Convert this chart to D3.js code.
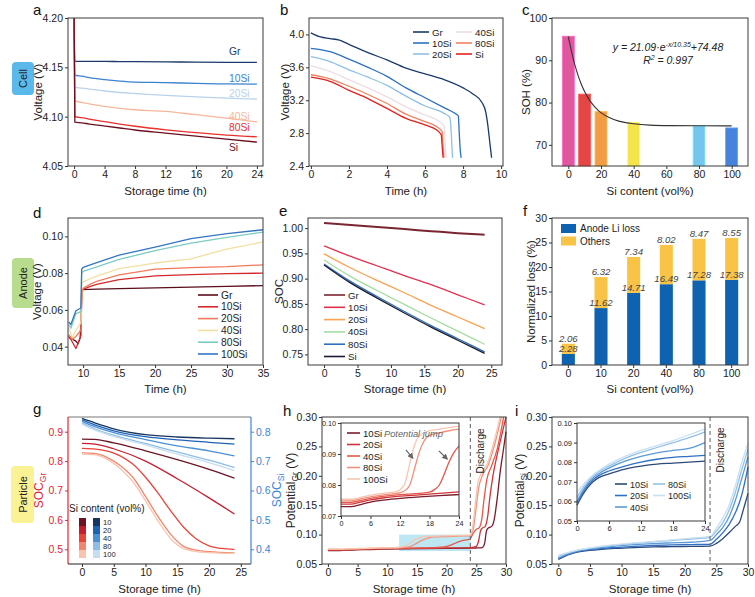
<!DOCTYPE html>
<html>
<head>
<meta charset="utf-8">
<script src="https://cdn.jsdelivr.net/npm/d3@7"></script>
<style>
  body { margin: 0; background: #fff; }
  svg text { font-family: "Liberation Sans", Arial, sans-serif; }
</style>
</head>
<body>
<svg id="fig" width="755" height="597"></svg>
<script>
// ---------- data ----------
// a: cell voltage during storage
var cellNames = ['Gr', '10Si', '20Si', '40Si', '80Si', 'Si'];
var aTime = [0, 0.1, 1, 2, 4, 6, 8, 12, 16, 20, 24];
var aVolt = [
  [4.2, 4.156, 4.156, 4.156, 4.156, 4.1558, 4.1557, 4.1555, 4.1553, 4.1551, 4.155],
  [4.2, 4.142, 4.141, 4.1395, 4.1375, 4.136, 4.135, 4.1345, 4.1337, 4.1332, 4.133],
  [4.2, 4.130, 4.129, 4.128, 4.126, 4.1245, 4.1235, 4.1215, 4.120, 4.1187, 4.1178],
  [4.2, 4.116, 4.1145, 4.113, 4.1105, 4.1085, 4.107, 4.1054, 4.102, 4.0986, 4.0946],
  [4.2, 4.100, 4.099, 4.0975, 4.095, 4.0925, 4.0903, 4.0867, 4.0838, 4.0813, 4.0796],
  [4.2, 4.0945, 4.0938, 4.0925, 4.0905, 4.0885, 4.0865, 4.0834, 4.0803, 4.0772, 4.0742]
];
var aLabelV = [4.1625, 4.135, 4.12, 4.0966, 4.0855, 4.065];

// b: discharge curves [time, V]
var bCurves = [
  [[0,4.02],[0.5,3.97],[1,3.95],[1.5,3.93],[2,3.88],[3,3.78],[4,3.69],[5,3.59],[6,3.52],[7,3.45],[8,3.35],[8.5,3.28],[9,3.17],[9.2,3.05],[9.3,2.9],[9.4,2.7],[9.5,2.5]],
  [[0,3.83],[1,3.79],[2,3.7],[3,3.6],[4,3.49],[5,3.35],[6,3.23],[7,3.11],[7.5,3.05],[7.75,3.01],[7.8,2.8],[7.85,2.6],[7.9,2.5]],
  [[0,3.73],[1,3.67],[2,3.57],[3,3.48],[4,3.38],[5,3.25],[6,3.13],[7,3.04],[7.3,2.99],[7.38,2.8],[7.42,2.6],[7.45,2.5]],
  [[0,3.62],[1,3.55],[2,3.45],[3,3.35],[4,3.24],[5,3.12],[6,3.02],[6.7,2.95],[7.0,2.89],[7.05,2.7],[7.1,2.5]],
  [[0,3.51],[1,3.46],[2,3.37],[3,3.27],[4,3.16],[5,3.03],[6,2.94],[6.6,2.88],[6.9,2.82],[6.95,2.65],[7.0,2.5]],
  [[0,3.48],[1,3.43],[2,3.32],[3,3.22],[4,3.10],[5,2.98],[6,2.90],[6.6,2.84],[6.85,2.78],[6.9,2.65],[6.95,2.5]]
];

// c: state of health
var siContent = [0, 10, 20, 40, 80, 100];
var cSOH = [95.7, 82.0, 77.9, 75.3, 74.5, 74.0];
var cFitX = [0, 2, 4, 6, 8, 10, 13, 16, 20, 25, 30, 40, 50, 60, 80, 100];
var cFitY = [95.6, 91.9, 88.8, 86.3, 84.2, 82.5, 80.5, 79.0, 77.5, 76.4, 75.6, 74.9, 74.65, 74.55, 74.5, 74.48];

// d: anode voltage
var anodeNames = ['Gr', '10Si', '20Si', '40Si', '80Si', '100Si'];
var dCurves = [
  [[8,0.045],[8.5,0.044],[9.0,0.043],[9.3,0.0415],[9.6,0.045],[9.75,0.06],[9.8,0.071],[12,0.0713],[15,0.0716],[20,0.072],[25,0.0724],[30,0.0728],[35,0.0732]],
  [[8,0.046],[8.5,0.0425],[9.0,0.039],[9.4,0.043],[9.7,0.046],[9.8,0.070],[10,0.0712],[11,0.0728],[12,0.074],[15,0.0765],[20,0.0785],[25,0.0792],[30,0.0797],[35,0.080]],
  [[8,0.0465],[8.5,0.044],[9.0,0.0455],[9.7,0.049],[9.85,0.070],[10,0.0718],[11,0.074],[12,0.0757],[15,0.079],[20,0.0822],[25,0.083],[30,0.0835],[35,0.0845]],
  [[8,0.050],[8.5,0.045],[9.0,0.049],[9.7,0.053],[9.8,0.074],[10,0.0752],[11,0.077],[12,0.0785],[15,0.0825],[20,0.0855],[25,0.0878],[28,0.091],[30,0.093],[35,0.097]],
  [[8,0.052],[8.3,0.050],[9.0,0.058],[9.7,0.059],[9.8,0.080],[10,0.081],[12,0.0835],[15,0.0875],[20,0.0922],[25,0.0963],[30,0.0995],[35,0.1023]],
  [[8,0.0535],[8.3,0.052],[9.0,0.0595],[9.7,0.061],[9.8,0.082],[10,0.0831],[12,0.0858],[15,0.0898],[20,0.0942],[25,0.0988],[30,0.1015],[35,0.1036]]
];

// e: anode SOC
var eTime = [0, 4, 8, 12, 16, 20, 24];
var eSOC = [
  [1.010, 1.006, 1.002, 0.998, 0.994, 0.990, 0.987],
  [0.965, 0.944, 0.925, 0.906, 0.888, 0.868, 0.848],
  [0.949, 0.921, 0.896, 0.872, 0.847, 0.824, 0.801],
  [0.937, 0.904, 0.876, 0.849, 0.822, 0.796, 0.770],
  [0.929, 0.894, 0.864, 0.835, 0.807, 0.781, 0.755],
  [0.927, 0.891, 0.861, 0.832, 0.804, 0.778, 0.752]
];

// f: normalized loss
var fAnode = [2.28, 11.62, 14.71, 16.49, 17.28, 17.38];
var fOthers = [2.06, 6.32, 7.34, 8.02, 8.47, 8.55];

// g: particle SOC
var partNames = ['10', '20', '40', '80', '100'];
var gGr = [
  [[0,0.875],[2,0.874],[5,0.862],[10,0.835],[15,0.805],[20,0.772],[24,0.742]],
  [[0,0.860],[2,0.858],[5,0.842],[10,0.80],[15,0.74],[20,0.675],[24,0.62]],
  [[0,0.843],[3,0.838],[6,0.818],[8,0.79],[10,0.745],[12,0.69],[14,0.63],[16,0.575],[18,0.535],[20,0.512],[22,0.503],[24,0.50]],
  [[0,0.828],[2,0.826],[4,0.812],[6,0.785],[8,0.745],[10,0.68],[12,0.61],[14,0.55],[16,0.51],[18,0.497],[20,0.492],[24,0.488]],
  [[0,0.824],[2,0.822],[4,0.806],[6,0.775],[8,0.73],[10,0.665],[12,0.595],[14,0.535],[16,0.502],[18,0.492],[20,0.489],[24,0.486]]
];
var gSi = [
  [[0,0.845],[2,0.83],[5,0.81],[10,0.79],[15,0.782],[20,0.778],[24,0.776]],
  [[0,0.84],[2,0.823],[5,0.803],[10,0.783],[15,0.772],[20,0.764],[24,0.758]],
  [[0,0.835],[2,0.817],[5,0.797],[10,0.773],[15,0.752],[20,0.735],[24,0.718]],
  [[0,0.83],[2,0.81],[5,0.788],[10,0.76],[15,0.731],[20,0.703],[24,0.678]],
  [[0,0.826],[2,0.806],[5,0.784],[10,0.755],[15,0.724],[20,0.695],[24,0.668]]
];

// h: graphite potential (storage part, also used by the inset) and discharge part
var siNames = ['10Si', '20Si', '40Si', '80Si', '100Si'];
var hStore = [
  [[0,0.0730],[2,0.0730],[4,0.0737],[6,0.0745],[9,0.0752],[12,0.0757],[16,0.0762],[20,0.0766],[24,0.0769]],
  [[0,0.0738],[2,0.0738],[4,0.0745],[6,0.0752],[9,0.0759],[12,0.0764],[16,0.0768],[20,0.0773],[24,0.0778]],
  [[0,0.0744],[2,0.0744],[4,0.0750],[6,0.0757],[9,0.0764],[12,0.0769],[16,0.0773],[18,0.0777],[19,0.0785],[20,0.080],[21,0.0835],[22,0.0875],[23,0.0905],[24,0.0926]],
  [[0,0.0749],[2,0.0749],[4,0.0755],[6,0.0762],[9,0.0769],[12,0.0775],[13,0.0782],[14,0.080],[15,0.0855],[16,0.091],[17,0.0945],[18,0.0960],[20,0.0968],[22,0.0975],[24,0.0980]],
  [[0,0.0754],[2,0.0754],[4,0.0760],[6,0.0767],[9,0.0774],[11,0.0778],[12,0.0785],[13,0.0805],[14,0.087],[15,0.093],[16,0.096],[18,0.0975],[20,0.0980],[22,0.0985],[24,0.0990]]
];
var hDis = [
  [[25,0.0772],[26,0.078],[26.4,0.085],[26.7,0.106],[27.0,0.111],[27.6,0.114],[28.0,0.125],[28.5,0.16],[29.0,0.205],[29.5,0.24],[30,0.275]],
  [[24.5,0.0785],[25.0,0.080],[25.4,0.09],[25.7,0.106],[26.0,0.111],[26.5,0.114],[26.9,0.13],[27.3,0.165],[27.8,0.2],[28.5,0.235],[29.3,0.27],[30,0.3]],
  [[24.2,0.097],[24.6,0.104],[25.0,0.109],[25.5,0.112],[25.9,0.125],[26.3,0.16],[26.8,0.195],[27.5,0.215],[28.5,0.245],[29.6,0.3]],
  [[24.2,0.101],[24.5,0.11],[24.9,0.14],[25.4,0.18],[26,0.2],[27,0.218],[28,0.25],[29.2,0.3]],
  [[24.15,0.102],[24.4,0.115],[24.8,0.15],[25.3,0.19],[25.9,0.205],[26.9,0.222],[27.9,0.255],[29.0,0.3]]
];
var hArrows = [[[13.2,0.0913],[14.6,0.0887]], [[19.9,0.0910],[21.6,0.0884]]];

// i: silicon potential
var iStore = [
  [[0,0.058],[1,0.063],[2,0.067],[3,0.070],[4,0.072],[6,0.074],[9,0.0765],[12,0.078],[15,0.079],[18,0.0795],[21,0.080],[24,0.0805]],
  [[0,0.059],[1,0.064],[2,0.068],[3,0.071],[4,0.073],[6,0.0755],[9,0.078],[12,0.080],[15,0.0815],[18,0.0825],[21,0.083],[24,0.0835]],
  [[0,0.060],[1,0.065],[2,0.069],[3,0.072],[4,0.074],[6,0.077],[9,0.0805],[12,0.083],[15,0.0848],[18,0.086],[21,0.087],[24,0.090]],
  [[0,0.062],[1,0.0665],[2,0.070],[3,0.073],[4,0.075],[6,0.078],[9,0.082],[12,0.085],[15,0.0875],[18,0.090],[21,0.0925],[24,0.0955]],
  [[0,0.065],[1,0.068],[2,0.071],[3,0.0735],[4,0.0755],[6,0.079],[9,0.083],[12,0.086],[15,0.0885],[18,0.091],[21,0.094],[24,0.097]]
];
var iDis = [
  [[25,0.085],[26,0.093],[27,0.103],[28,0.114],[28.7,0.122],[29.2,0.14],[29.6,0.155],[30,0.17]],
  [[25,0.092],[26,0.103],[27,0.117],[28,0.137],[29,0.167],[30,0.215]],
  [[25,0.100],[26,0.112],[27,0.130],[28,0.158],[29,0.195],[30,0.232]],
  [[25,0.106],[26,0.120],[27,0.141],[28,0.172],[29,0.210],[30,0.245]],
  [[25,0.111],[26,0.128],[27,0.150],[28,0.183],[29,0.222],[30,0.255]]
];

// ---------- colours ----------
var aCol = ['#1b3a6b', '#3b82d0', '#b9d3ea', '#f7b79b', '#e8302c', '#6b0f1f'];
var bCol = ['#1b3a6b', '#2b6fc5', '#8fc0e2', '#eedde3', '#f2825f', '#e0211f'];
var cCol = ['#e0579f', '#e44646', '#f29d45', '#f5e44a', '#74c6ef', '#4684dc'];
var dCol = ['#5c0d1c', '#d42a2c', '#f27a5c', '#f1e0a4', '#7ccbc2', '#3375c3'];
var eCol = ['#7a2430', '#e2314f', '#f8a352', '#a6dca4', '#2c6fc0', '#1a1c34'];
var redCol = ['#6b1424', '#c41e2e', '#e8453a', '#f0876e', '#f7c4ae'];
var blueCol = ['#17355e', '#1f62b5', '#4a8fd4', '#8dbde6', '#c6dcef'];
var hCol = ['#7a1c2a', '#d0343a', '#e5584a', '#f0907a', '#f7c6b0'];
var iCol = ['#2c4a78', '#2f6fc4', '#5b9ad6', '#93c1e7', '#c9e0f1'];

// ---------- helpers ----------
var svg = d3.select('#fig');
var FONT = '"Liberation Sans", Arial, sans-serif';

function txt(x, y, s, o) {
  o = o || {};
  var t = svg.append('text').attr('x', x).attr('y', y)
    .attr('font-size', o.fs || 11.5).attr('fill', o.fill || '#222')
    .attr('text-anchor', o.anchor || 'start');
  if (s !== null) t.text(s);
  if (o.italic) t.attr('font-style', 'italic');
  if (o.rot) t.attr('transform', 'rotate(-90,' + x + ',' + y + ')');
  return t;
}

function axes(b, xs, ys, o) {
  var gx = svg.append('g').attr('transform', 'translate(0,' + b.b + ')')
    .call(d3.axisBottom(xs).tickValues(o.xt).tickFormat(o.xf || null).tickSize(3).tickSizeOuter(0).tickPadding(2));
  var gy = svg.append('g').attr('transform', 'translate(' + b.l + ',0)')
    .call(d3.axisLeft(ys).tickValues(o.yt).tickFormat(o.yf || null).tickSize(3).tickSizeOuter(0).tickPadding(2));
  [gx, gy].forEach(function(g) {
    g.attr('font-family', FONT).attr('font-size', o.fs || 10.5);
    g.select('.domain').remove();
    g.selectAll('line').attr('stroke', '#333');
    g.selectAll('text').attr('fill', '#222');
  });
  if (!o.noFrame) {
    svg.append('rect').attr('x', b.l).attr('y', b.t).attr('width', b.r - b.l).attr('height', b.b - b.t)
      .attr('fill', 'none').attr('stroke', '#3a3a3a').attr('stroke-width', 1);
  }
  return [gx, gy];
}

function line(pts, xs, ys, col, w, curve) {
  return svg.append('path').datum(pts)
    .attr('fill', 'none').attr('stroke', col).attr('stroke-width', w || 1.3)
    .attr('stroke-linejoin', 'round')
    .attr('d', d3.line().x(function(d) { return xs(d[0]); }).y(function(d) { return ys(d[1]); })
      .curve(curve || d3.curveMonotoneX));
}

function sideTag(x, y, w, h, fill, label) {
  svg.append('rect').attr('x', x).attr('y', y).attr('width', w).attr('height', h)
    .attr('rx', 4).attr('fill', fill);
  txt(x + w / 2 + 4, y + h / 2, label, { fs: 11, anchor: 'middle', rot: true });
}

function legendLine(x, y, len, col, label, fs) {
  svg.append('line').attr('x1', x).attr('x2', x + len).attr('y1', y).attr('y2', y)
    .attr('stroke', col).attr('stroke-width', 1.6);
  txt(x + len + 3, y + 3.5, label, { fs: fs || 10 });
}

var f2 = d3.format('.2f'), f1 = d3.format('.1f'), f0 = d3.format('d');

// ---------- side tags and panel letters ----------
sideTag(12, 62, 22, 33, '#5ab8ea', 'Cell');
sideTag(12, 258, 22, 50, '#b7dc8e', 'Anode');
sideTag(11, 466, 23, 57, '#fbf296', 'Particle');

[['a', 33, 15], ['b', 280, 15], ['c', 522, 15], ['d', 33, 218], ['e', 279, 216], ['f', 523, 216],
 ['g', 33, 414], ['h', 283, 416], ['i', 515, 416]].forEach(function(p) {
  txt(p[1], p[2], p[0], { fs: 15, fill: '#111' });
});

// ---------- a ----------
(function() {
  var b = { l: 68, t: 18, r: 263, b: 166 };
  var x = d3.scaleLinear().domain([-0.8, 24.8]).range([b.l, b.r]);
  var y = d3.scaleLinear().domain([4.05, 4.2]).range([b.b, b.t]);
  aVolt.forEach(function(v, i) {
    line(aTime.map(function(t, k) { return [t, v[k]]; }), x, y, aCol[i], 1.3);
  });
  cellNames.forEach(function(n, i) {
    txt(229, y(aLabelV[i]), n, { fs: 10.3, fill: aCol[i] });
  });
  axes(b, x, y, { xt: [0, 4, 8, 12, 16, 20, 24], yt: [4.05, 4.10, 4.15, 4.20], yf: f2 });
  txt((b.l + b.r) / 2, 195, 'Storage time (h)', { anchor: 'middle' });
  txt(42, (b.t + b.b) / 2, 'Voltage (V)', { anchor: 'middle', rot: true });
})();

// ---------- b ----------
(function() {
  var b = { l: 309, t: 18, r: 503, b: 166 };
  var x = d3.scaleLinear().domain([-0.1, 10.1]).range([b.l, b.r]);
  var y = d3.scaleLinear().domain([2.4, 4.2]).range([b.b, b.t]);
  bCurves.forEach(function(c, i) { line(c, x, y, bCol[i], 1.3); });
  cellNames.forEach(function(n, i) {
    var col = Math.floor(i / 3), row = i % 3;
    legendLine(col ? 456 : 413, 32 + row * 11, 16, bCol[i], n, 9.7);
  });
  axes(b, x, y, { xt: [0, 2, 4, 6, 8, 10], yt: [2.4, 2.8, 3.2, 3.6, 4.0], yf: f1 });
  txt((b.l + b.r) / 2, 195, 'Time (h)', { anchor: 'middle' });
  txt(289, (b.t + b.b) / 2, 'Voltage (V)', { anchor: 'middle', rot: true });
})();

// ---------- c ----------
(function() {
  var b = { l: 552, t: 18, r: 748, b: 166 };
  var x = d3.scaleLinear().domain([-10, 110]).range([b.l, b.r]);
  var y = d3.scaleLinear().domain([65, 100]).range([b.b, b.t]);
  svg.append('g').selectAll('rect').data(cSOH).join('rect')
    .attr('x', function(d, i) { return x(siContent[i]) - 6; })
    .attr('width', 12)
    .attr('y', function(d) { return y(d); })
    .attr('height', function(d) { return y(65) - y(d); })
    .attr('fill', function(d, i) { return cCol[i]; })
    .attr('stroke', function(d, i) { return d3.color(cCol[i]).brighter(0.6); })
    .attr('stroke-width', 0.8);
  line(cFitX.map(function(v, k) { return [v, cFitY[k]]; }), x, y, '#333', 1.1, d3.curveBasis);
  var eq = txt(668, 51, null, { fs: 10.5, anchor: 'middle', italic: true });
  eq.append('tspan').text('y = 21.09·e');
  eq.append('tspan').attr('font-size', 7).attr('dy', -4).text('-x/10.35');
  eq.append('tspan').attr('dy', 4).text('+74.48');
  var r2 = txt(668, 64, null, { fs: 10.5, anchor: 'middle', italic: true });
  r2.append('tspan').text('R');
  r2.append('tspan').attr('font-size', 7).attr('dy', -4).text('2');
  r2.append('tspan').attr('dy', 4).text(' = 0.997');
  axes(b, x, y, { xt: [0, 20, 40, 60, 80, 100], yt: [70, 80, 90, 100], yf: f0 });
  txt((b.l + b.r) / 2, 195, 'Si content (vol%)', { anchor: 'middle' });
  txt(530, (b.t + b.b) / 2, 'SOH (%)', { anchor: 'middle', rot: true });
})();

// ---------- d ----------
(function() {
  var b = { l: 68, t: 218, r: 263, b: 365 };
  var x = d3.scaleLinear().domain([7.9, 35]).range([b.l, b.r]);
  var y = d3.scaleLinear().domain([0.03, 0.11]).range([b.b, b.t]);
  dCurves.forEach(function(c, i) { line(c, x, y, dCol[i], 1.3, d3.curveLinear); });
  anodeNames.forEach(function(n, i) { legendLine(198, 295 + i * 11.8, 20, dCol[i], n, 10.3); });
  axes(b, x, y, { xt: [10, 15, 20, 25, 30, 35], yt: [0.04, 0.06, 0.08, 0.10], yf: f2 });
  txt((b.l + b.r) / 2, 393, 'Time (h)', { anchor: 'middle' });
  txt(41, (b.t + b.b) / 2, 'Voltage (V)', { anchor: 'middle', rot: true });
})();

// ---------- e ----------
(function() {
  var b = { l: 308, t: 218, r: 502, b: 365 };
  var x = d3.scaleLinear().domain([-2.4, 26.6]).range([b.l, b.r]);
  var y = d3.scaleLinear().domain([0.729, 1.02]).range([b.b, b.t]);
  eSOC.forEach(function(v, i) {
    line(eTime.map(function(t, k) { return [t, v[k]]; }), x, y, eCol[i], i === 0 ? 2 : 1.3);
  });
  cellNames.forEach(function(n, i) { legendLine(324, 295 + i * 12.3, 21, eCol[i], n, 9.7); });
  axes(b, x, y, { xt: [0, 5, 10, 15, 20, 25], yt: [0.75, 0.80, 0.85, 0.90, 0.95, 1.00], yf: f2 });
  txt((b.l + b.r) / 2, 393, 'Storage time (h)', { anchor: 'middle' });
  txt(283, (b.t + b.b) / 2, 'SOC', { anchor: 'middle', rot: true });
})();

// ---------- f ----------
(function() {
  var b = { l: 552, t: 218, r: 748, b: 365 };
  var x = d3.scaleBand().domain(siContent).range([b.l, b.r]).paddingInner(0.6).paddingOuter(0.3);
  var y = d3.scaleLinear().domain([0, 30]).range([b.b, b.t]);
  var stack = siContent.map(function(c, i) { return { c: c, a: fAnode[i], o: fOthers[i] }; });
  var g = svg.append('g');
  g.selectAll('rect.an').data(stack).join('rect').attr('class', 'an')
    .attr('x', function(d) { return x(d.c); }).attr('width', x.bandwidth())
    .attr('y', function(d) { return y(d.a); }).attr('height', function(d) { return y(0) - y(d.a); })
    .attr('fill', '#0f62b0');
  g.selectAll('rect.ot').data(stack).join('rect').attr('class', 'ot')
    .attr('x', function(d) { return x(d.c); }).attr('width', x.bandwidth())
    .attr('y', function(d) { return y(d.a + d.o); }).attr('height', function(d) { return y(d.a) - y(d.a + d.o); })
    .attr('fill', '#f9c345');
  stack.forEach(function(d) {
    var cx = x(d.c) + x.bandwidth() / 2;
    txt(cx, y(d.a + d.o) - 2, f2(d.o), { fs: 9.6, anchor: 'middle', italic: true, fill: '#444' });
    txt(cx, y(d.a) - 2, f2(d.a), { fs: 9.6, anchor: 'middle', italic: true, fill: '#444' });
  });
  [['#0f62b0', 'Anode Li loss'], ['#f9c345', 'Others']].forEach(function(l, i) {
    svg.append('rect').attr('x', 561).attr('y', 224 + i * 12.5).attr('width', 15).attr('height', 9).attr('fill', l[0]);
    txt(580, 232 + i * 12.5, l[1], { fs: 10 });
  });
  axes(b, x, y, { xt: null, yt: [0, 5, 10, 15, 20, 25, 30], yf: f0 });
  txt((b.l + b.r) / 2, 393, 'Si content (vol%)', { anchor: 'middle' });
  txt(535, (b.t + b.b) / 2, 'Normalized loss (%)', { anchor: 'middle', rot: true });
})();

// ---------- g ----------
(function() {
  var b = { l: 68, t: 417, r: 251, b: 564 };
  var x = d3.scaleLinear().domain([-2.2, 26.6]).range([b.l, b.r]);
  var yL = d3.scaleLinear().domain([0.45, 0.95]).range([b.b, b.t]);
  var yR = d3.scaleLinear().domain([0.35, 0.85]).range([b.b, b.t]);
  gSi.forEach(function(c, i) { line(c, x, yR, blueCol[i], 1.3); });
  gGr.forEach(function(c, i) { line(c, x, yL, redCol[i], 1.3); });
  var ax = axes(b, x, yL, { xt: [0, 5, 10, 15, 20, 25], yt: [0.5, 0.6, 0.7, 0.8, 0.9], yf: f1, noFrame: true });
  ax[1].selectAll('text').attr('fill', '#e3262f');
  ax[1].selectAll('line').attr('stroke', '#e3262f');
  var gr = svg.append('g').attr('transform', 'translate(' + b.r + ',0)')
    .call(d3.axisRight(yR).tickValues([0.4, 0.5, 0.6, 0.7, 0.8]).tickFormat(f1).tickSize(3).tickSizeOuter(0).tickPadding(2));
  gr.attr('font-family', FONT).attr('font-size', 10.5);
  gr.select('.domain').remove();
  gr.selectAll('text').attr('fill', '#3a86d6');
  gr.selectAll('line').attr('stroke', '#3a86d6');
  svg.append('line').attr('x1', b.l).attr('x2', b.r).attr('y1', b.t).attr('y2', b.t).attr('stroke', '#777');
  svg.append('line').attr('x1', b.l).attr('x2', b.r).attr('y1', b.b).attr('y2', b.b).attr('stroke', '#222');
  svg.append('line').attr('x1', b.l).attr('x2', b.l).attr('y1', b.t).attr('y2', b.b).attr('stroke', '#e3262f').attr('stroke-width', 1.2);
  svg.append('line').attr('x1', b.r).attr('x2', b.r).attr('y1', b.t).attr('y2', b.b).attr('stroke', '#3a86d6').attr('stroke-width', 1.2);
  // legend: two colour columns of swatches with shared labels
  txt(69, 512, 'Si content (vol%)', { fs: 10 });
  partNames.forEach(function(n, i) {
    svg.append('rect').attr('x', 79).attr('y', 518 + i * 8).attr('width', 7).attr('height', 8).attr('fill', redCol[i]);
    svg.append('rect').attr('x', 93).attr('y', 518 + i * 8).attr('width', 7).attr('height', 8).attr('fill', blueCol[i]);
    txt(103, 524.5 + i * 8, n, { fs: 7.6 });
  });
  txt((b.l + b.r) / 2, 593, 'Storage time (h)', { anchor: 'middle' });
  var tl = txt(43, (b.t + b.b) / 2, null, { anchor: 'middle', rot: true, fill: '#e3262f', fs: 12 });
  tl.append('tspan').text('SOC');
  tl.append('tspan').attr('font-size', 8.5).attr('dy', 3).text('Gr');
  var tr = txt(281, (b.t + b.b) / 2, null, { anchor: 'middle', rot: true, fill: '#3a86d6', fs: 12 });
  tr.append('tspan').text('SOC');
  tr.append('tspan').attr('font-size', 8.5).attr('dy', 3).text('Si');
})();

// ---------- h ----------
(function() {
  var b = { l: 322, t: 417, r: 506, b: 564 };
  var x = d3.scaleLinear().domain([-1, 30]).range([b.l, b.r]);
  var y = d3.scaleLinear().domain([0.05, 0.30]).range([b.b, b.t]);
  svg.append('rect').attr('x', x(12)).attr('width', x(24) - x(12))
    .attr('y', y(0.10)).attr('height', y(0.072) - y(0.10)).attr('fill', '#bde7f3');
  hStore.forEach(function(c, i) { line(c.concat(hDis[i]), x, y, hCol[i], 1.3); });
  svg.append('line').attr('x1', x(24)).attr('x2', x(24)).attr('y1', b.t).attr('y2', b.b)
    .attr('stroke', '#777').attr('stroke-width', 1.2).attr('stroke-dasharray', '4,3');
  txt(484, 451, 'Discharge', { fs: 10, anchor: 'middle', rot: true });
  axes(b, x, y, { xt: [0, 5, 10, 15, 20, 25, 30], yt: [0.05, 0.10, 0.15, 0.20, 0.25, 0.30], yf: f2 });
  txt((b.l + b.r) / 2, 593, 'Storage time (h)', { anchor: 'middle' });
  var yl = txt(295, (b.t + b.b) / 2, null, { anchor: 'middle', rot: true, fs: 12 });
  yl.append('tspan').text('Potential');
  yl.append('tspan').attr('font-size', 8.5).attr('dy', 3).text('Gr');
  yl.append('tspan').attr('dy', -3).text(' (V)');

  // inset
  var ib = { l: 341, t: 423, r: 459, b: 516 };
  svg.append('rect').attr('x', ib.l).attr('y', ib.t).attr('width', ib.r - ib.l).attr('height', ib.b - ib.t).attr('fill', '#fff');
  var ix = d3.scaleLinear().domain([0, 24]).range([ib.l, ib.r]);
  var iy = d3.scaleLinear().domain([0.07, 0.10]).range([ib.b, ib.t]);
  hStore.forEach(function(c, i) { line(c, ix, iy, hCol[i], 1.3); });
  var defs = svg.append('defs');
  defs.append('marker').attr('id', 'arr').attr('viewBox', '0 0 10 10').attr('refX', 8).attr('refY', 5)
    .attr('markerWidth', 5).attr('markerHeight', 5).attr('orient', 'auto')
    .append('path').attr('d', 'M0,0L10,5L0,10z').attr('fill', '#666');
  hArrows.forEach(function(a) {
    svg.append('line').attr('x1', ix(a[0][0])).attr('y1', iy(a[0][1])).attr('x2', ix(a[1][0])).attr('y2', iy(a[1][1]))
      .attr('stroke', '#666').attr('stroke-width', 1.2).attr('marker-end', 'url(#arr)');
  });
  siNames.forEach(function(n, i) { legendLine(347, 433 + i * 11.5, 13, hCol[i], n, 9.6); });
  txt(384, 436.5, 'Potential jump', { fs: 9.3, italic: true, fill: '#666' });
  axes(ib, ix, iy, { xt: [0, 6, 12, 18, 24], yt: [0.07, 0.08, 0.09, 0.10], yf: f2, fs: 7.2 });
})();

// ---------- i ----------
(function() {
  var b = { l: 552, t: 417, r: 748, b: 564 };
  var x = d3.scaleLinear().domain([-1, 30]).range([b.l, b.r]);
  var y = d3.scaleLinear().domain([0.05, 0.30]).range([b.b, b.t]);
  iStore.forEach(function(c, i) { line(c.concat(iDis[i]), x, y, iCol[i], 1.3); });
  svg.append('line').attr('x1', x(24)).attr('x2', x(24)).attr('y1', b.t).attr('y2', b.b)
    .attr('stroke', '#777').attr('stroke-width', 1.2).attr('stroke-dasharray', '4,3');
  txt(724, 450, 'Discharge', { fs: 10, anchor: 'middle', rot: true });
  axes(b, x, y, { xt: [0, 5, 10, 15, 20, 25, 30], yt: [0.05, 0.10, 0.15, 0.20, 0.25, 0.30], yf: f2 });
  txt((b.l + b.r) / 2, 593, 'Storage time (h)', { anchor: 'middle' });
  var yl = txt(524, (b.t + b.b) / 2, null, { anchor: 'middle', rot: true, fs: 12 });
  yl.append('tspan').text('Potential');
  yl.append('tspan').attr('font-size', 8.5).attr('dy', 3).text('Si');
  yl.append('tspan').attr('dy', -3).text(' (V)');

  // inset
  var ib = { l: 577, t: 423, r: 705, b: 521 };
  svg.append('rect').attr('x', ib.l).attr('y', ib.t).attr('width', ib.r - ib.l).attr('height', ib.b - ib.t).attr('fill', '#fff');
  var ix = d3.scaleLinear().domain([0, 24]).range([ib.l, ib.r]);
  var iy = d3.scaleLinear().domain([0.05, 0.10]).range([ib.b, ib.t]);
  iStore.forEach(function(c, i) { line(c, ix, iy, iCol[i], 1.3); });
  siNames.forEach(function(n, i) {
    var col = i < 3 ? 0 : 1, row = i < 3 ? i : i - 3;
    legendLine(col ? 653 : 615, 484 + row * 11.5, 12, iCol[i], n, 9);
  });
  axes(ib, ix, iy, { xt: [0, 6, 12, 18, 24], yt: [0.05, 0.06, 0.07, 0.08, 0.09, 0.10], yf: f2, fs: 7.5 });
})();
</script>
</body>
</html>
